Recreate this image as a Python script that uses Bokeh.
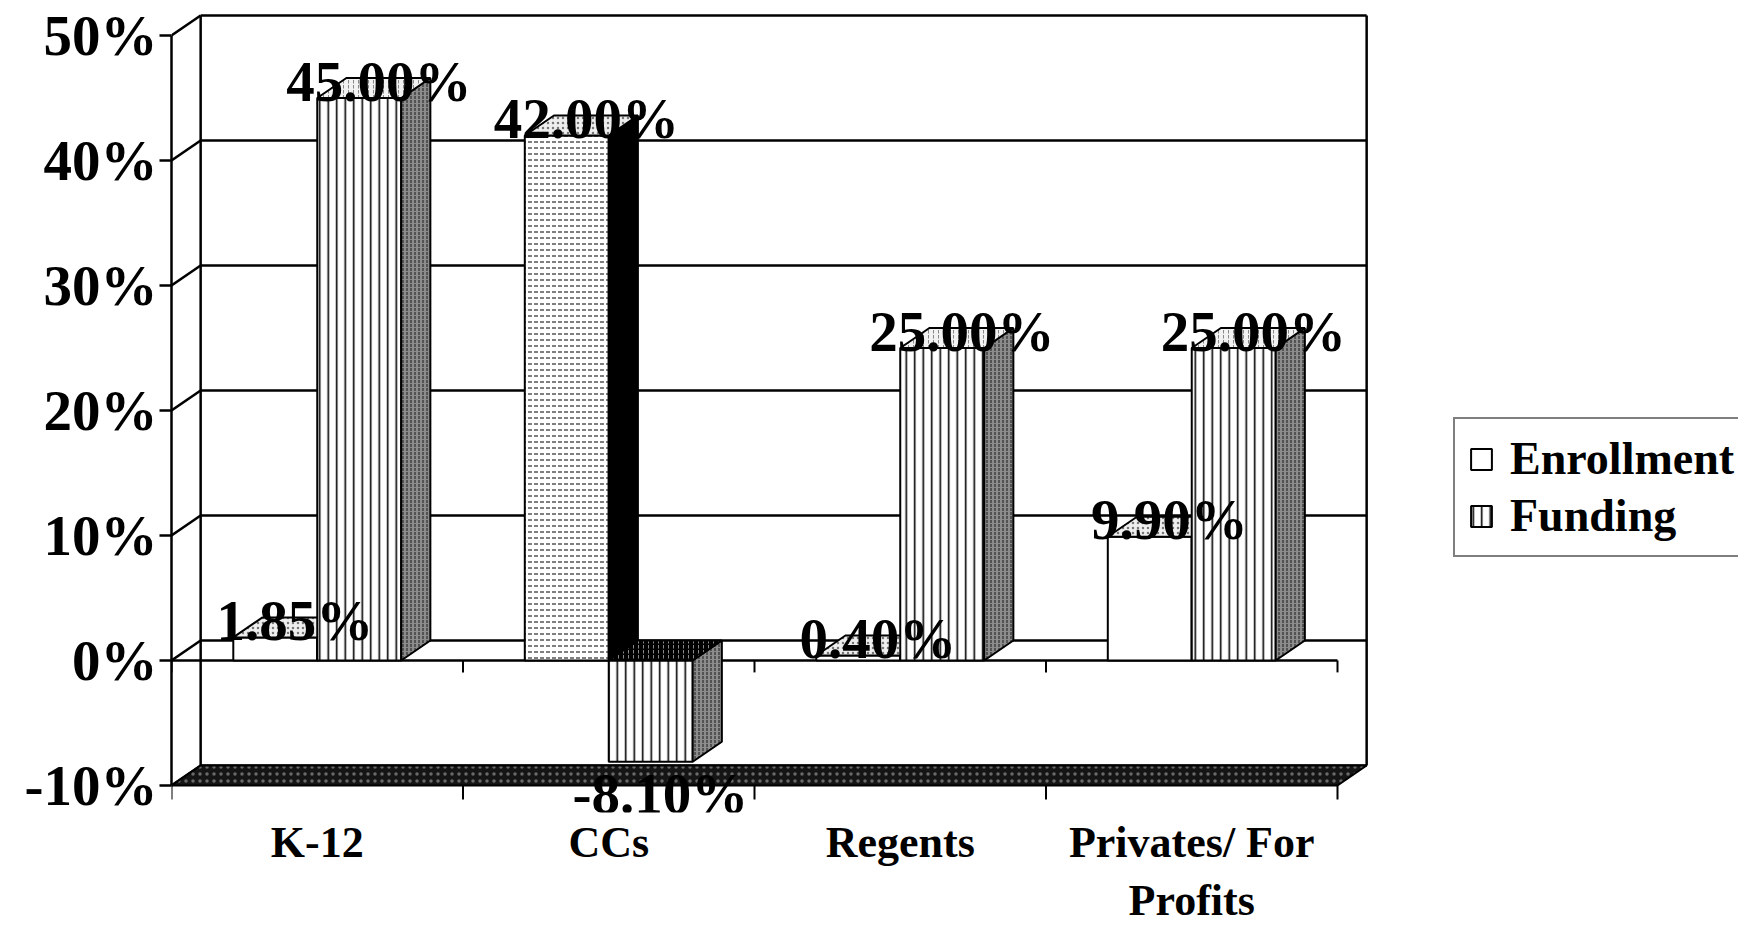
import numpy as np
from bokeh.plotting import figure
from bokeh.models import (ColumnDataSource, FixedTicker, Legend, LegendItem,
                          Range1d)
from bokeh.core.properties import value
from bokeh.embed import file_html
from bokeh.resources import INLINE

# ---------------- data ----------------
categories = ["K-12", "CCs", "Regents", "Privates/ For\nProfits"]
enrollment = [1.85, 42.00, 0.40, 9.90]
funding = [45.00, -8.10, 25.00, 25.00]
y_ticks = [-10, 0, 10, 20, 30, 40, 50]
y_tick_labels = ["-10%", "0%", "10%", "20%", "30%", "40%", "50%"]
series_names = ["Enrollment", "Funding"]

# ---------------- geometry / style ----------------
FONT = "Liberation Serif"
BAR_W = 0.288      # bar width in category units
DX = 0.10          # 3-D depth offset (x units)
DY = 1.6           # 3-D depth offset (y units)
TICK = 1.12        # tick length below floor lines (y units)
n = len(categories)
centers = np.arange(n) + 0.5
y_lo, y_hi = y_ticks[0], y_ticks[-1]

p = figure(frame_width=1567, frame_height=812,
           x_range=Range1d(0, 1567 / 291.5), y_range=Range1d(-12.16, 52.8),
           min_border_left=171, min_border_right=0, min_border_top=0,
           min_border_bottom=116, output_backend="svg", toolbar_location=None,
           background_fill_color="white", border_fill_color="white")
p.outline_line_color = None
p.xgrid.visible = False
p.ygrid.visible = False

# ---- walls: back gridlines, side diagonals, edges ----
bx0, bx1 = DX, n + DX
p.segment(x0=[bx0] * len(y_ticks), y0=[t + DY for t in y_ticks],
          x1=[bx1] * len(y_ticks), y1=[t + DY for t in y_ticks],
          line_color="black", line_width=2.5)
p.segment(x0=[0] * len(y_ticks), y0=y_ticks,
          x1=[DX] * len(y_ticks), y1=[t + DY for t in y_ticks],
          line_color="black", line_width=2.5)
p.segment(x0=[bx0, bx1], y0=[y_lo + DY] * 2, x1=[bx0, bx1], y1=[y_hi + DY] * 2,
          line_color="black", line_width=2.5)

# ---- floor slab at the minimum, with its category ticks ----
p.patch(x=[0, n, n + DX, DX], y=[y_lo, y_lo, y_lo + DY, y_lo + DY],
        fill_color="#151515", hatch_pattern="dot", hatch_color="#6a6a6a",
        hatch_scale=7, hatch_weight=1, line_color="black", line_width=2)
bounds_x = list(range(n + 1))
p.segment(x0=bounds_x, y0=[y_lo] * (n + 1), x1=bounds_x,
          y1=[y_lo - TICK] * (n + 1), line_color="black", line_width=2)

# ---- zero line with boundary ticks ----
p.segment(x0=[0], y0=[0], x1=[n], y1=[0], line_color="black", line_width=2.5)
p.segment(x0=bounds_x, y0=[0] * (n + 1), x1=bounds_x, y1=[-TICK * 0.85] * (n + 1),
          line_color="black", line_width=2)


def faces(left, right, vals):
    vals = np.asarray(vals, dtype=float)
    bottom = np.minimum(0, vals)
    top = np.maximum(0, vals)
    front = dict(left=left, right=right, bottom=bottom, top=top)
    side = dict(xs=[[r, r + DX, r + DX, r] for r in right],
                ys=[[b, b + DY, t + DY, t] for b, t in zip(bottom, top)])
    topf = dict(xs=[[l, r, r + DX, l + DX] for l, r in zip(left, right)],
                ys=[[t, t, t + DY, t + DY] for t in top])
    return front, side, topf


# ---- Enrollment bars ----
ef, es, et = faces(centers - BAR_W, centers, enrollment)
ef["hatch"] = ["blank", "horizontal_dash", "blank", "blank"]
es["fill"] = ["white", "black", "white", "white"]
e_front = p.quad(source=ColumnDataSource(ef), left="left", right="right",
                 bottom="bottom", top="top", fill_color="white",
                 hatch_pattern="hatch", hatch_color="black", hatch_scale=6,
                 hatch_weight=1, line_color="black", line_width=2)
p.patches(source=ColumnDataSource(es), xs="xs", ys="ys", fill_color="fill",
          line_color="black", line_width=2)
p.patches(source=ColumnDataSource(et), xs="xs", ys="ys", fill_color="#eeeeee",
          hatch_pattern="dot", hatch_color="#777777", hatch_scale=5,
          line_color="black", line_width=2)

# ---- Funding bars ----
ff, fs, ft = faces(centers, centers + BAR_W, funding)
ft["fill"] = ["#f2f2f2", "black", "#f2f2f2", "#f2f2f2"]
f_front = p.quad(source=ColumnDataSource(ff), left="left", right="right",
                 bottom="bottom", top="top", fill_color="white",
                 hatch_pattern="vertical_line", hatch_color="black",
                 hatch_scale=8.5, hatch_weight=1.6,
                 line_color="black", line_width=2)
p.patches(source=ColumnDataSource(fs), xs="xs", ys="ys", fill_color="#8c8c8c",
          hatch_pattern="vertical_dash", hatch_color="#1a1a1a", hatch_scale=4,
          hatch_weight=1, line_color="black", line_width=2)
p.patches(source=ColumnDataSource(ft), xs="xs", ys="ys", fill_color="fill",
          hatch_pattern="vertical_dash", hatch_color="#888888", hatch_scale=5,
          line_color="black", line_width=2)

# ---- data labels ----
lab_x = list(centers - BAR_W / 2 + DX / 2) + list(centers + BAR_W / 2 + DX / 2)
lab_v = list(enrollment) + list(funding)
lab_t = [f"{v:.2f}%" for v in lab_v]
pos = [i for i, v in enumerate(lab_v) if v >= 0]
neg = [i for i, v in enumerate(lab_v) if v < 0]
common = dict(text_font=value(FONT), text_font_style="bold",
              text_font_size="57px", text_color="black", text_align="center")
p.text(x=[lab_x[i] for i in pos], y=[lab_v[i] for i in pos],
       text=[lab_t[i] for i in pos], text_baseline="alphabetic",
       x_offset=5, y_offset=-17, **common)
p.text(x=[lab_x[i] for i in neg], y=[lab_v[i] for i in neg],
       text=[lab_t[i] for i in neg], text_baseline="top",
       x_offset=-5, y_offset=0, **common)

# ---- axes ----
yax = p.yaxis[0]
yax.ticker = FixedTicker(ticks=y_ticks, minor_ticks=[])
yax.bounds = (y_lo, y_hi)
yax.major_label_overrides = {t: l for t, l in zip(y_ticks, y_tick_labels)}
yax.major_tick_out = 12
yax.major_tick_in = 0
yax.major_tick_line_width = 2.5
yax.axis_line_width = 2.5
yax.major_label_standoff = 2
yax.major_label_text_font = FONT
yax.major_label_text_font_style = "bold"
yax.major_label_text_font_size = "57px"
yax.major_label_text_color = "black"

xax = p.xaxis[0]
xax.ticker = FixedTicker(ticks=list(centers), minor_ticks=[])
xax.major_label_overrides = {float(c): lab for c, lab in zip(centers, categories)}
xax.axis_line_color = None
xax.major_tick_line_color = None
xax.major_tick_out = 0
xax.major_tick_in = 0
xax.minor_tick_out = 0
xax.minor_tick_in = 0
xax.major_label_standoff = 5
xax.major_label_text_font = FONT
xax.major_label_text_font_style = "bold"
xax.major_label_text_font_size = "44px"
xax.major_label_text_color = "black"

# ---- legend ----
legend = Legend(items=[LegendItem(label=series_names[0], renderers=[e_front]),
                       LegendItem(label=series_names[1], renderers=[f_front])],
                location=(1282, 255))
legend.label_text_font = FONT
legend.label_text_font_style = "bold"
legend.label_text_font_size = "46px"
legend.label_text_color = "black"
legend.glyph_width = 26
legend.glyph_height = 26
legend.label_standoff = 16
legend.padding = 13
legend.spacing = 4
legend.margin = 0
legend.border_line_color = "black"
legend.border_line_width = 2
legend.background_fill_color = "white"
legend.background_fill_alpha = 1
p.add_layout(legend)

open("out.html", "w").write(file_html(p, INLINE))
